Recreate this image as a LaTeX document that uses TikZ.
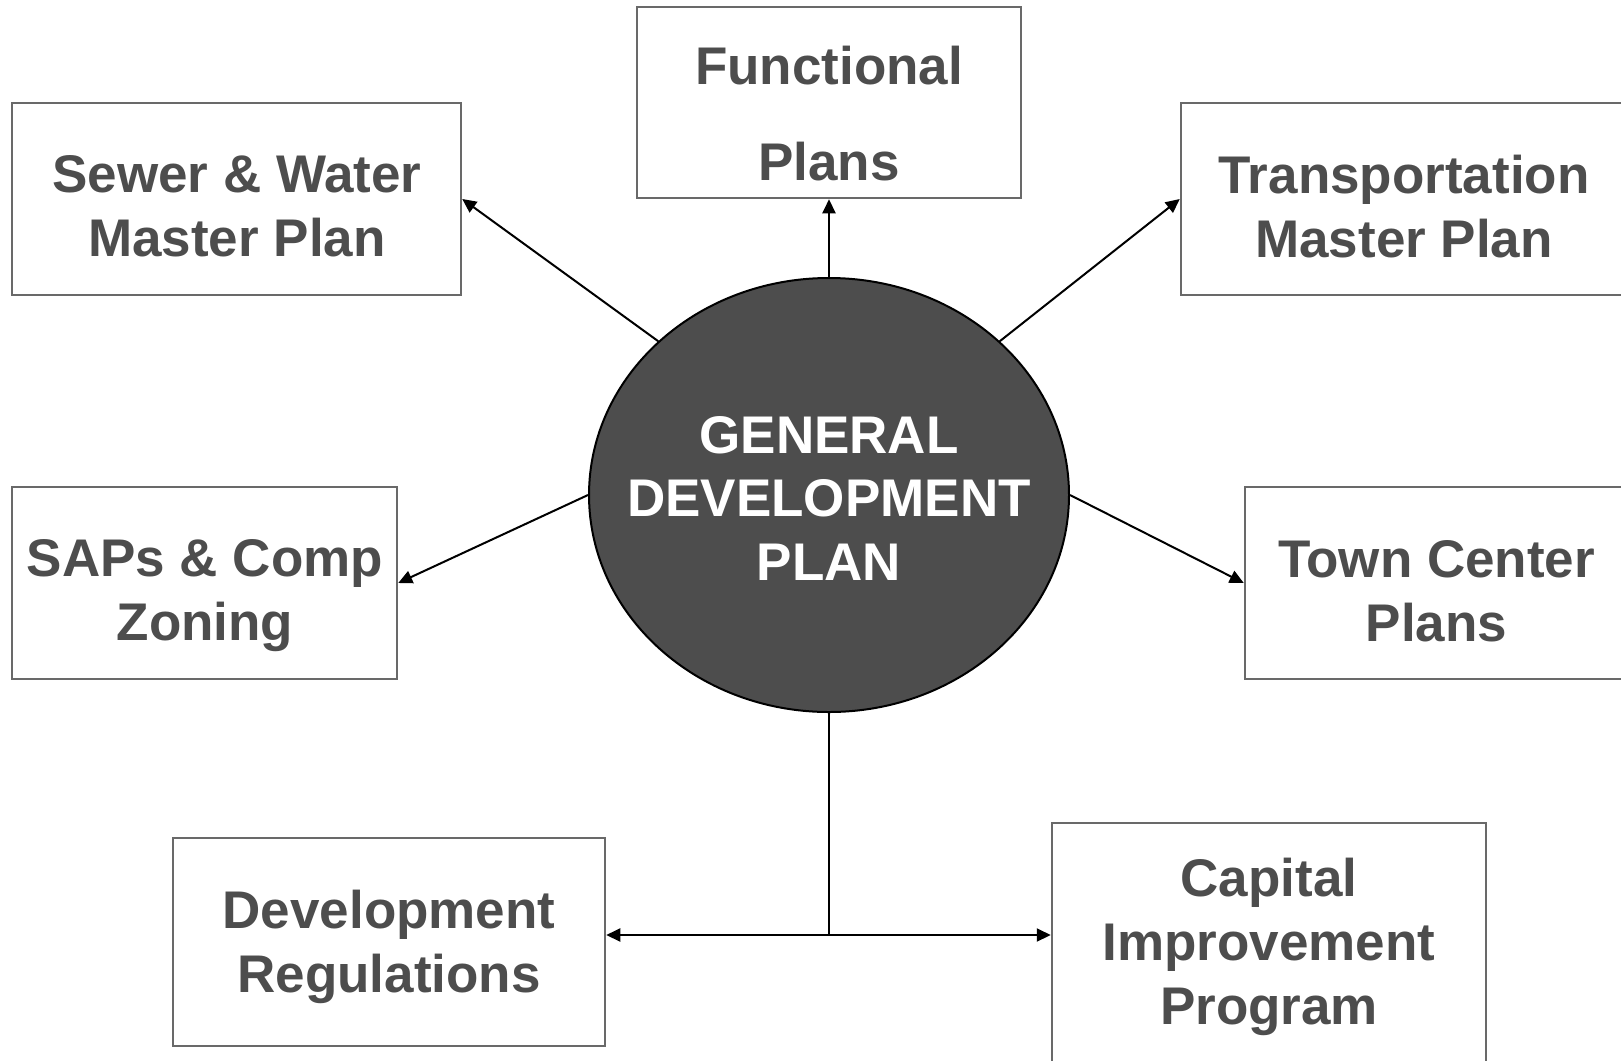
\documentclass[tikz,border=0pt]{standalone}
\usepackage{fontspec}
\setmainfont{Liberation Sans}
\usetikzlibrary{arrows.meta,shapes.geometric}
\definecolor{txtgray}{RGB}{77,77,77}
\definecolor{boxgray}{RGB}{105,105,105}
\definecolor{ellfill}{RGB}{77,77,77}
\begin{document}
\begin{tikzpicture}[x=1pt,y=-1pt,
  plan/.style={draw=boxgray,line width=2.5pt,fill=white,rectangle,inner sep=0pt},
  lbl/.style={text=txtgray,align=center,inner sep=0pt,font=\bfseries\fontsize{53}{64}\selectfont},
  conn/.style={draw=black,line width=2pt,-{Triangle[length=14pt,width=13pt]}}]
\useasboundingbox (0,0) rectangle (1621,1060);
\fill[white] (0,0) rectangle (1621,1060);
% boxes
\node[plan,minimum width=384pt,minimum height=191pt] (func) at (829,102.5) {};
\node[plan,minimum width=449pt,minimum height=192pt] (sewer) at (236.5,199) {};
\node[plan,minimum width=447pt,minimum height=192pt] (trans) at (1404.5,199) {};
\node[plan,minimum width=385pt,minimum height=192pt] (saps) at (204.5,583) {};
\node[plan,minimum width=383pt,minimum height=192pt] (town) at (1436.5,583) {};
\node[plan,minimum width=432pt,minimum height=208pt] (devreg) at (389,942) {};
\node[plan,minimum width=434pt,minimum height=239pt] (cip) at (1269,942.5) {};
% texts
\node[lbl,font=\bfseries\fontsize{53}{96}\selectfont] (funcT) at (829,114) {Functional\\Plans};
\node[lbl] (sewerT) at (237,206.5) {Sewer \& Water\\Master Plan};
\node[lbl] (transT) at (1404,206.5) {Transportation\\Master Plan};
\node[lbl] (sapsT) at (205,596) {SAPs \& Comp\\Zoning};
\node[lbl] (townT) at (1436.5,591) {Town Center\\Plans};
\node[lbl] (devregT) at (389,947) {Development\\Regulations};
\node[lbl] (cipT) at (1269,947) {Capital\\Improvement\\Program};
% central ellipse
\node[ellipse,draw=black,line width=2pt,fill=ellfill,minimum width=480pt,minimum height=434pt,inner sep=0pt] (gdp) at (829,495) {};
\node[lbl,text=white,font=\bfseries\fontsize{53}{63.5}\selectfont] (gdpT) at (829,498) {GENERAL\\DEVELOPMENT\\PLAN};
% connectors
\draw[conn] (gdp.north) -- (func.south);
\draw[conn] (gdp.138) -- (sewer.east);
\draw[conn] (gdp.42) -- (trans.west);
\draw[conn] (gdp.west) -- (saps.east);
\draw[conn] (gdp.east) -- (town.west);
\coordinate (junc) at (829,935);
\draw[line width=2pt] (gdp.south) -- (junc);
\draw[conn] (junc) -- (devreg.east |- junc);
\draw[conn] (junc) -- (cip.west |- junc);
\end{tikzpicture}
\end{document}
